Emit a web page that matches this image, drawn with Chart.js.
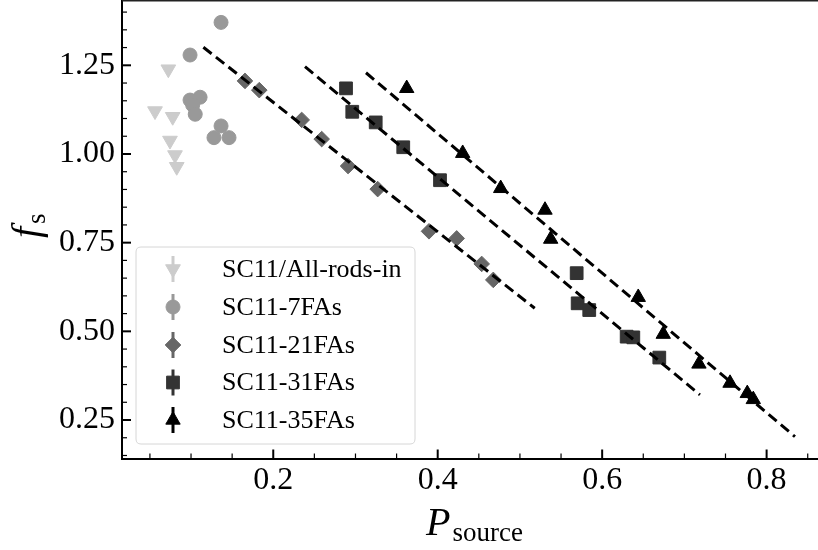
<!DOCTYPE html>
<html><head><meta charset="utf-8">
<script src="https://cdn.jsdelivr.net/npm/chart.js@4/dist/chart.umd.min.js"></script>
<style>html,body{margin:0;padding:0;background:#fff;overflow:hidden}#wrap{width:818px;height:550px;position:relative}</style>
</head><body><div id="wrap"><canvas id="c"></canvas></div>
<script>
// ---- data ----
const seriesNames = ['SC11/All-rods-in', 'SC11-7FAs', 'SC11-21FAs', 'SC11-31FAs', 'SC11-35FAs'];
const seriesColors = ['#cccccc', '#999999', '#666666', '#333333', '#000000'];

const allRodsX = [0.0724, 0.0562, 0.0777, 0.0744, 0.0805, 0.0826];
const allRodsY = [1.239, 1.121, 1.105, 1.038, 0.997, 0.964];

const fa7X = [0.1365, 0.0988, 0.1110, 0.0988, 0.1020, 0.1051, 0.1365, 0.1279, 0.1462];
const fa7Y = [1.371, 1.279, 1.160, 1.152, 1.138, 1.112, 1.079, 1.046, 1.046];

const fa21X = [0.1656, 0.1830, 0.2346, 0.2589, 0.2910, 0.3270, 0.3894, 0.4231, 0.4535, 0.4676];
const fa21Y = [1.206, 1.180, 1.096, 1.042, 0.966, 0.901, 0.782, 0.762, 0.690, 0.645];

const fa31X = [0.2885, 0.2961, 0.3246, 0.3581, 0.4028, 0.5690, 0.5702, 0.5843, 0.6298, 0.6379, 0.6695];
const fa31Y = [1.185, 1.119, 1.089, 1.019, 0.926, 0.664, 0.579, 0.560, 0.485, 0.483, 0.426];

const fa35X = [0.3623, 0.4304, 0.4766, 0.5305, 0.5374, 0.6439, 0.6743, 0.7177, 0.7555, 0.7765, 0.7838];
const fa35Y = [1.185, 1.002, 0.903, 0.842, 0.760, 0.596, 0.492, 0.408, 0.354, 0.325, 0.308];

const fit21X = [0.115, 0.518];
const fit21Y = [1.301, 0.565];
const fit31X = [0.2386, 0.7189];
const fit31Y = [1.246, 0.321];
const fit35X = [0.3128, 0.8345];
const fit35Y = [1.229, 0.203];

const xTickValues = [0.2, 0.4, 0.6, 0.8];
const yTickValues = [0.25, 0.50, 0.75, 1.00, 1.25];
const xMinorValues = [0.05, 0.10, 0.15, 0.25, 0.30, 0.35, 0.45, 0.50, 0.55, 0.65, 0.70, 0.75, 0.85];
const yMinorValues = [0.15, 0.20, 0.30, 0.35, 0.40, 0.45, 0.55, 0.60, 0.65, 0.70, 0.80, 0.85, 0.90, 0.95, 1.05, 1.10, 1.15, 1.20, 1.30, 1.35, 1.40];

const xLabelMain = 'P';
const xLabelSub = 'source';
const yLabelMain = 'f';
const yLabelSub = 's';

// ---- chart ----
const pts = (xs, ys) => xs.map((x, i) => ({x: x, y: ys[i]}));
const SERIF = '"Liberation Serif", "DejaVu Serif", serif';

const markerStyles = [
  {style: 'triangle', rotation: 180, radius: 8.5},
  {style: 'circle', rotation: 0, radius: 7},
  {style: 'rectRot', rotation: 0, radius: 7.8},
  {style: 'rect', rotation: 0, radius: 9},
  {style: 'triangle', rotation: 0, radius: 8.3}
];
const seriesData = [pts(allRodsX, allRodsY), pts(fa7X, fa7Y), pts(fa21X, fa21Y), pts(fa31X, fa31Y), pts(fa35X, fa35Y)];

const fitDs = (xs, ys) => ({
  data: pts(xs, ys), showLine: true, borderColor: '#000', borderWidth: 3,
  borderDash: [10.5, 5.5], pointRadius: 0, fill: false, order: 0, borderCapStyle: 'butt'
});

const datasets = [fitDs(fit21X, fit21Y), fitDs(fit31X, fit31Y), fitDs(fit35X, fit35Y)];
seriesData.forEach((d, i) => {
  datasets.push({
    label: seriesNames[i], data: d, showLine: false,
    pointStyle: markerStyles[i].style, rotation: markerStyles[i].rotation,
    pointRadius: markerStyles[i].radius, pointHoverRadius: markerStyles[i].radius,
    backgroundColor: seriesColors[i], borderColor: seriesColors[i], borderWidth: 1, order: 1
  });
});

function drawMarker(ctx, style, rot, r, x, y, color) {
  ctx.save();
  ctx.fillStyle = color; ctx.strokeStyle = color; ctx.lineWidth = 1;
  ctx.beginPath();
  if (style === 'circle') {
    ctx.arc(x, y, r, 0, Math.PI * 2);
  } else if (style === 'rect') {
    const s = Math.SQRT1_2 * r;
    ctx.rect(x - s, y - s, 2 * s, 2 * s);
  } else if (style === 'rectRot') {
    ctx.moveTo(x, y - r); ctx.lineTo(x + r, y); ctx.lineTo(x, y + r); ctx.lineTo(x - r, y); ctx.closePath();
  } else if (style === 'triangle') {
    const a = rot * Math.PI / 180;
    for (let k = 0; k < 3; k++) {
      const ang = a + k * 2 * Math.PI / 3;
      const px = x + Math.sin(ang) * r, py = y - Math.cos(ang) * r;
      if (k === 0) ctx.moveTo(px, py); else ctx.lineTo(px, py);
    }
    ctx.closePath();
  }
  ctx.fill(); ctx.stroke();
  ctx.restore();
}

const decorPlugin = {
  id: 'decor',
  afterDraw(chart) {
    const ctx = chart.ctx, ca = chart.chartArea;
    const xs = chart.scales.x, ys = chart.scales.y;
    ctx.save();
    // top frame
    ctx.strokeStyle = '#222'; ctx.lineWidth = 1.6;
    ctx.beginPath(); ctx.moveTo(ca.left, ca.top + 0.8); ctx.lineTo(ca.right, ca.top + 0.8); ctx.stroke();
    // ticks (inward)
    ctx.strokeStyle = '#000';
    const tick = (vals, len, w) => {
      ctx.lineWidth = w;
      vals.forEach(v => {
        const px = xs.getPixelForValue(v);
        ctx.beginPath(); ctx.moveTo(px, ca.bottom); ctx.lineTo(px, ca.bottom - len); ctx.stroke();
      });
    };
    const ytick = (vals, len, w) => {
      ctx.lineWidth = w;
      vals.forEach(v => {
        const py = ys.getPixelForValue(v);
        ctx.beginPath(); ctx.moveTo(ca.left, py); ctx.lineTo(ca.left + len, py); ctx.stroke();
      });
    };
    tick(xTickValues, 9, 2); tick(xMinorValues, 5, 1.2);
    ytick(yTickValues, 9, 2); ytick(yMinorValues, 5, 1.2);

    // axis titles
    ctx.fillStyle = '#000';
    ctx.textBaseline = 'alphabetic'; ctx.textAlign = 'left';
    ctx.font = 'italic 40px ' + SERIF;
    ctx.fillText(xLabelMain, 426, 535);
    const pw = ctx.measureText(xLabelMain).width;
    ctx.font = '27px ' + SERIF;
    ctx.fillText(xLabelSub, 426 + pw + 2, 541);

    ctx.save();
    ctx.translate(39, 238);
    ctx.rotate(-Math.PI / 2);
    ctx.font = 'italic 40px ' + SERIF;
    ctx.fillText(yLabelMain, 0, 0);
    const fw = ctx.measureText(yLabelMain).width;
    ctx.font = '27px ' + SERIF;
    ctx.fillText(yLabelSub, fw + 3, 6);
    ctx.restore();

    // legend
    const bx = 136, by = 247, bw = 279, bh = 197, rr = 5;
    ctx.beginPath();
    ctx.moveTo(bx + rr, by); ctx.lineTo(bx + bw - rr, by); ctx.quadraticCurveTo(bx + bw, by, bx + bw, by + rr);
    ctx.lineTo(bx + bw, by + bh - rr); ctx.quadraticCurveTo(bx + bw, by + bh, bx + bw - rr, by + bh);
    ctx.lineTo(bx + rr, by + bh); ctx.quadraticCurveTo(bx, by + bh, bx, by + bh - rr);
    ctx.lineTo(bx, by + rr); ctx.quadraticCurveTo(bx, by, bx + rr, by);
    ctx.closePath();
    ctx.fillStyle = 'rgba(255,255,255,0.85)'; ctx.fill();
    ctx.strokeStyle = '#d6d6d6'; ctx.lineWidth = 1; ctx.stroke();
    const rows = [269, 307, 345, 382.5, 420];
    seriesNames.forEach((name, i) => {
      const cy = rows[i], cx = 173;
      ctx.strokeStyle = seriesColors[i]; ctx.lineWidth = 3;
      ctx.beginPath(); ctx.moveTo(cx, cy - 13); ctx.lineTo(cx, cy + 13); ctx.stroke();
      const m = markerStyles[i];
      drawMarker(ctx, m.style, m.rotation, m.radius, cx, cy, seriesColors[i]);
      ctx.fillStyle = '#000'; ctx.font = '26px ' + SERIF; ctx.textBaseline = 'middle'; ctx.textAlign = 'left';
      ctx.fillText(name, 222, cy + 1);
    });
    ctx.restore();
  }
};

new Chart(document.getElementById('c'), {
  type: 'scatter',
  data: {datasets: datasets},
  options: {
    responsive: true, maintainAspectRatio: false, animation: false,
    layout: {padding: 0, autoPadding: false},
    plugins: {legend: {display: false}, tooltip: {enabled: false}},
    scales: {
      x: {
        type: 'linear', min: 0.01605, max: 0.8625,
        afterBuildTicks: s => { s.ticks = xTickValues.map(v => ({value: v})); },
        afterFit: s => { s.height = 91.5; s.paddingLeft = 0; s.paddingRight = 0; s.paddingTop = 0; s.paddingBottom = 0; },
        grid: {display: false, drawTicks: false},
        border: {display: true, color: '#000', width: 2},
        ticks: {color: '#000', font: {family: SERIF, size: 32}, padding: 3, maxRotation: 0,
                callback: v => Number(v).toFixed(1)}
      },
      y: {
        type: 'linear', min: 0.1415, max: 1.4341,
        afterBuildTicks: s => { s.ticks = yTickValues.map(v => ({value: v})); },
        afterFit: s => { s.width = 122; s.paddingTop = 0; s.paddingBottom = 0; s.paddingLeft = 0; s.paddingRight = 0; },
        grid: {display: false, drawTicks: false},
        border: {display: true, color: '#000', width: 2},
        ticks: {color: '#000', font: {family: SERIF, size: 32}, padding: 7,
                callback: v => Number(v).toFixed(2)}
      }
    }
  },
  plugins: [decorPlugin]
});
</script></body></html>
